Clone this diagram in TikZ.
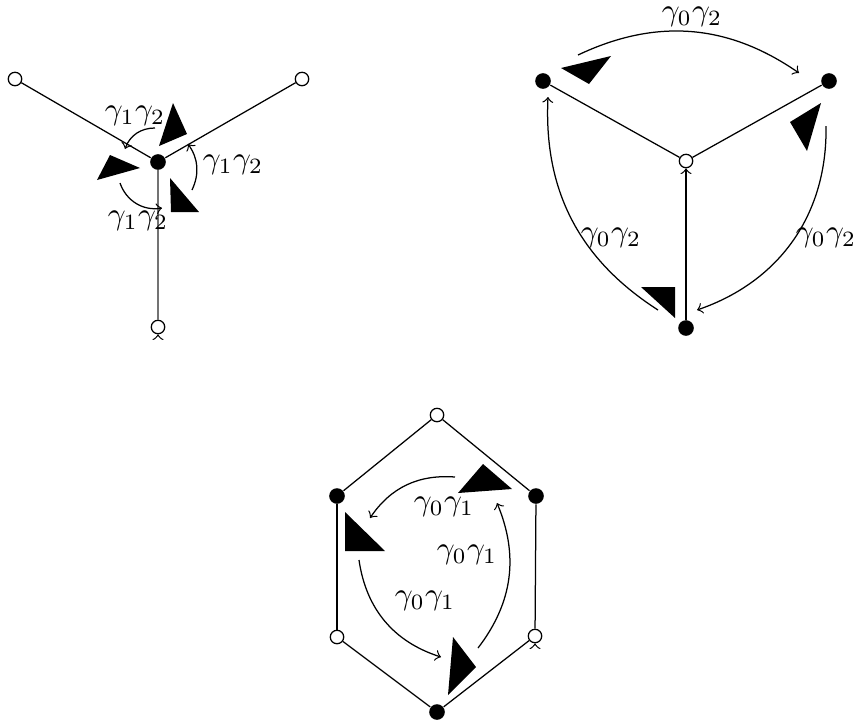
\documentclass[tikz,border=0pt]{standalone}
\usetikzlibrary{calc}
\begin{document}
\begin{tikzpicture}[x=0.32pt,y=-0.32pt,
  bnode/.style={circle,fill=black,inner sep=0pt,minimum size=5pt},
  wnode/.style={circle,draw,fill=white,inner sep=0pt,minimum size=4.3pt},
  lab/.style={inner sep=0pt}]
\useasboundingbox (0,0) rectangle (856,725);

% ---------- Panel 1 ----------
\node[bnode] (c1) at (158,162) {};
\node[wnode] (l1) at (15,79) {};
\node[wnode] (r1) at (302,79) {};
\node[wnode] (b1) at (158,327) {};
\draw (c1) -- (l1);
\draw (c1) -- (r1);
\draw[black!55] (c1) -- (b1);
\draw[->] ($(b1.south)+(0,0.5)$) -- (b1.south);

\fill (173,103) -- (187,134) -- (159,146) -- cycle;
\fill (110,155) -- (140,168) -- (97,180) -- cycle;
\fill (170,178) -- (199,212) -- (171,212) -- cycle;

\coordinate (p1s) at (155,128); \coordinate (p1e) at (125,149);
\coordinate (p2s) at (192,190); \coordinate (p2e) at (188,144);
\coordinate (p3s) at (120,183); \coordinate (p3e) at (162,208);
\draw[->] (p1s) to[bend right=35] (p1e);
\draw[->] (p2s) to[bend right=30] (p2e);
\draw[->] (p3s) to[bend right=40] (p3e);
\node[lab] (q1) at (135,116) {$\gamma_1\gamma_2$};
\node[lab] (q2) at (233,165) {$\gamma_1\gamma_2$};
\node[lab] (q3) at (138,221) {$\gamma_1\gamma_2$};

% ---------- Panel 2 ----------
\node[wnode] (w2) at (686,161) {};
\node[bnode] (a2) at (543,81) {};
\node[bnode] (b2) at (829,81) {};
\node[bnode] (c2) at (686,328) {};
\draw (w2) -- (a2);
\draw (w2) -- (b2);
\draw[->] (c2) -- (w2);

\fill (561,68) -- (611,56) -- (589,84) -- cycle;
\fill (790,122) -- (821,103) -- (807,151) -- cycle;
\fill (641,287) -- (675,287) -- (675,318) -- cycle;

\coordinate (s1s) at (578,55); \coordinate (s1e) at (799,73);
\coordinate (s2s) at (826,126); \coordinate (s2e) at (697,310);
\coordinate (s3s) at (658,310); \coordinate (s3e) at (548,97);
\draw[->] (s1s) to[bend left=30] (s1e);
\draw[->] (s2s) to[bend left=36] (s2e);
\draw[->] (s3s) to[bend left=30] (s3e);
\node[lab] (t1) at (692,17) {$\gamma_0\gamma_2$};
\node[lab] (t2) at (826,238) {$\gamma_0\gamma_2$};
\node[lab] (t3) at (611,238) {$\gamma_0\gamma_2$};

% ---------- Panel 3 ----------
\node[wnode] (h1) at (437,415) {};
\node[bnode] (h2) at (337,496) {};
\node[bnode] (h3) at (536,496) {};
\node[wnode] (h4) at (337,637) {};
\node[wnode] (h5) at (535,636) {};
\node[bnode] (h6) at (437,712) {};
\draw (h1) -- (h2);
\draw (h1) -- (h3);
\draw (h2) -- (h4);
\draw (h3) -- (h5);
\draw (h4) -- (h6);
\draw (h5) -- (h6);
\draw[->] ($(h5.south)+(0,0.5)$) -- (h5.south);

\fill (458,493) -- (512,489) -- (483,464) -- cycle;
\fill (345,512) -- (385,551) -- (345,551) -- cycle;
\fill (453,637) -- (476,667) -- (448,695) -- cycle;

\coordinate (u1s) at (455,477); \coordinate (u1e) at (370,518);
\coordinate (u2s) at (478,648); \coordinate (u2e) at (497,503);
\coordinate (u3s) at (359,560); \coordinate (u3e) at (441,657);
\draw[->] (u1s) to[bend right=30] (u1e);
\draw[->] (u2s) to[bend right=30] (u2e);
\draw[->] (u3s) to[bend right=32] (u3e);
\node[lab] (v1) at (444,507) {$\gamma_0\gamma_1$};
\node[lab] (v2) at (467,555) {$\gamma_0\gamma_1$};
\node[lab] (v3) at (425,601) {$\gamma_0\gamma_1$};
\end{tikzpicture}
\end{document}
